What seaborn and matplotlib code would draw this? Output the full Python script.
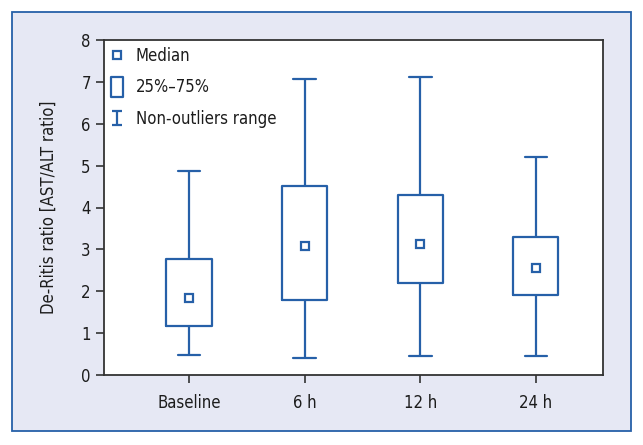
import matplotlib
matplotlib.use("Agg")
import matplotlib.pyplot as plt
import pandas as pd
import seaborn as sns
from matplotlib.lines import Line2D
from matplotlib.patches import Rectangle
from matplotlib.path import Path

# Data
groups = ["Baseline", "6 h", "12 h", "24 h"]
whisker_low = [0.47, 0.41, 0.45, 0.45]
q1 = [1.16, 1.79, 2.20, 1.91]
median = [1.83, 3.09, 3.12, 2.56]
q3 = [2.78, 4.52, 4.31, 3.30]
whisker_high = [4.86, 7.08, 7.12, 5.21]

BLUE = "#2660a8"
BG = "#e6e8f4"
INK = "#1c1c1c"
FS = 12

# five points per group -> quartiles land exactly on the values (whis spans min..max)
rows = []
for i, g in enumerate(groups):
    for v in (whisker_low[i], q1[i], median[i], q3[i], whisker_high[i]):
        rows.append({"time": g, "value": v})
df = pd.DataFrame(rows)

sns.set_theme(style="ticks")
plt.rcParams["font.family"] = ["DejaVu Sans"]
plt.rcParams["font.stretch"] = "condensed"
plt.rcParams["text.color"] = INK
plt.rcParams["axes.labelcolor"] = INK
plt.rcParams["xtick.color"] = INK
plt.rcParams["ytick.color"] = INK

fig = plt.figure(figsize=(6.43, 4.45), dpi=100)
fig.patch.set_facecolor("white")

# light panel with blue frame behind everything
fig.patches.append(Rectangle((12 / 643, 14 / 445), 619 / 643, 419 / 445,
                             transform=fig.transFigure, facecolor=BG,
                             edgecolor=BLUE, linewidth=1.3, zorder=-10))

ax = fig.add_axes([104 / 643, 70 / 445, 499 / 643, 335 / 445])
ax.set_facecolor("white")

sns.boxplot(data=df, x="time", y="value", order=groups, whis=(0, 100),
            width=0.39, fill=False, color=BLUE, linewidth=1.6,
            medianprops={"visible": False}, showfliers=False, ax=ax)

sns.pointplot(x=groups, y=median, order=groups, linestyle="none", marker="s",
              color=BLUE, markersize=6, markerfacecolor="white",
              markeredgewidth=1.6, errorbar=None, ax=ax, zorder=4)

ax.set_xlim(-0.735, 3.58)
ax.set_ylim(0, 8)
ax.set_yticks(range(0, 9))
ax.set_xlabel("")
ax.set_ylabel("De-Ritis ratio [AST/ALT ratio]", fontsize=FS, labelpad=17)
ax.tick_params(axis="both", labelsize=FS, length=6, width=1.2, color="#333333")
ax.tick_params(axis="x", pad=8)
for s in ax.spines.values():
    s.set_visible(True)
    s.set_linewidth(1.3)
    s.set_color("#333333")

# legend glyphs
ibeam = Path([(-0.8, 1), (0.8, 1), (0, 1), (0, -1), (-0.8, -1), (0.8, -1)],
             [Path.MOVETO, Path.LINETO, Path.MOVETO, Path.LINETO, Path.MOVETO, Path.LINETO])
tallbox = Path([(-0.63, -1), (0.63, -1), (0.63, 1), (-0.63, 1), (-0.63, -1)],
               [Path.MOVETO, Path.LINETO, Path.LINETO, Path.LINETO, Path.CLOSEPOLY])
handles = [
    Line2D([], [], linestyle="none", marker="s", markersize=6, markerfacecolor="white",
           markeredgecolor=BLUE, markeredgewidth=1.6),
    Line2D([], [], linestyle="none", marker=tallbox, markersize=14, markerfacecolor="none",
           markeredgecolor=BLUE, markeredgewidth=1.6),
    Line2D([], [], linestyle="none", marker=ibeam, markersize=9.5, markerfacecolor="none",
           markeredgecolor=BLUE, markeredgewidth=1.6),
]
ax.legend(handles, ["Median", "25%\u201375%", "Non-outliers range"], loc="upper left",
          frameon=False, fontsize=FS, handlelength=0.8, handletextpad=0.7,
          labelspacing=0.82, borderaxespad=0.0, bbox_to_anchor=(0.0, 1.0))

fig.savefig("out.png", dpi=100)
